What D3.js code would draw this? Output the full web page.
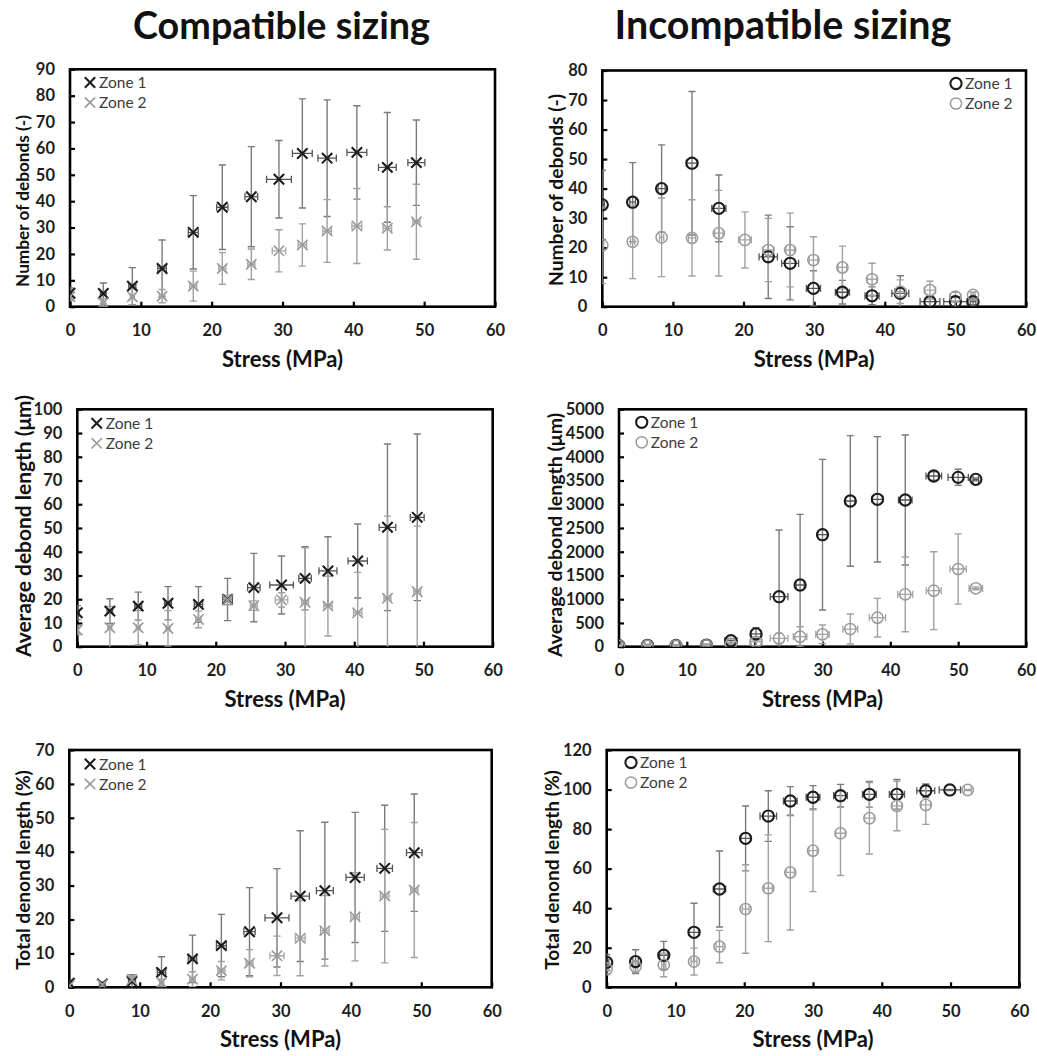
<!DOCTYPE html>
<html>
<head>
<meta charset="utf-8">
<script src="https://cdn.jsdelivr.net/npm/d3@7"></script>
<style>
  body { margin: 0; background: #fff; }
  svg text { font-family: Lato, "Open Sans", sans-serif; }
</style>
</head>
<body>
<svg id="fig" width="1037" height="1056"></svg>
<script>
// ---------- shared axis values ----------
const stressTicks = [0, 10, 20, 30, 40, 50, 60];
const debondTicksC = [0, 10, 20, 30, 40, 50, 60, 70, 80, 90];
const debondTicksI = [0, 10, 20, 30, 40, 50, 60, 70, 80];
const lengthTicksC = [0, 10, 20, 30, 40, 50, 60, 70, 80, 90, 100];
const lengthTicksI = [0, 500, 1000, 1500, 2000, 2500, 3000, 3500, 4000, 4500, 5000];
const totalTicksC = [0, 10, 20, 30, 40, 50, 60, 70];
const totalTicksI = [0, 20, 40, 60, 80, 100, 120];
const zoneNames = ["Zone 1", "Zone 2"];

// ---------- compatible sizing: number of debonds ----------
const cdStress = [0, 4.7, 8.8, 13.0, 17.4, 21.5, 25.6, 29.5, 32.8, 36.3, 40.5, 44.8, 48.9];
const cdZ1   = [5.1, 5.0, 7.8, 14.5, 28.2, 37.7, 41.7, 48.3, 58.1, 56.3, 58.5, 52.8, 54.6];
const cdZ1Sd = [2.0, 4.0, 7.0, 10.8, 13.9, 16.0, 19.0, 14.7, 20.7, 22.1, 17.7, 20.8, 16.2];
const cdZ1Sx = [0.3, 0.4, 0.5, 0.6, 0.7, 0.8, 0.9, 1.75, 1.4, 1.3, 1.4, 1.25, 1.2];
const cdZ2   = [3.8, 1.5, 3.8, 4.0, 7.8, 14.5, 16.1, 21.2, 23.4, 28.7, 30.6, 29.7, 32.2];
const cdZ2Sd = [1.5, 1.5, 3.0, 2.5, 5.7, 6.0, 5.8, 8.0, 8.0, 11.9, 14.2, 8.2, 14.2];
const cdZ2Sx = [0.2, 0.3, 0.3, 0.4, 0.5, 0.5, 0.5, 0.95, 0.6, 0.6, 0.7, 0.6, 0.5];

// ---------- incompatible sizing: number of debonds ----------
const idStress1 = [0, 4.3, 8.4, 12.7, 16.5, 23.5, 26.6, 29.9, 34.0, 38.2, 42.2, 46.4, 50.0, 52.5];
const idZ1   = [34.5, 35.4, 40.0, 48.6, 33.3, 16.9, 14.7, 6.2, 4.9, 3.7, 4.5, 1.7, 1.7, 1.7];
const idZ1Sd = [11.7, 13.4, 14.8, 24.3, 11.3, 14.1, 12.4, 6.0, 4.0, 3.0, 6.0, 2.0, 1.5, 1.0];
const idZ1Sx = [0.3, 0.4, 0.5, 0.8, 1.0, 1.3, 1.2, 1.0, 1.0, 1.0, 1.2, 1.4, 1.65, 0.4];
const idStress2 = [0, 4.3, 8.4, 12.7, 16.5, 20.2, 23.5, 26.6, 29.9, 34.0, 38.2, 42.2, 46.4, 50.0, 52.5];
const idZ2   = [20.8, 22.0, 23.5, 23.3, 24.9, 22.6, 19.2, 19.2, 15.8, 13.3, 9.3, 5.1, 5.6, 3.4, 4.0];
const idZ2Sd = [13.0, 12.5, 13.3, 12.9, 14.5, 9.5, 10.7, 12.5, 7.9, 7.2, 5.4, 4.0, 3.0, 1.5, 1.0];
const idZ2Sx = [0.2, 0.3, 0.3, 0.5, 0.6, 0.9, 0.8, 0.6, 0.6, 0.6, 0.7, 0.8, 0.8, 0.8, 0.3];

// ---------- compatible sizing: average debond length ----------
const clStress = [0, 4.7, 8.8, 13.1, 17.5, 21.7, 25.5, 29.5, 32.9, 36.2, 40.5, 44.8, 49.1];
const clZ1   = [14.3, 15.0, 17.1, 18.3, 17.8, 19.9, 24.9, 26.0, 28.8, 31.9, 36.1, 50.3, 54.5];
const clZ1Sd = [3.0, 5.2, 5.9, 7.0, 7.5, 8.9, 14.4, 12.2, 13.3, 14.4, 15.6, 35.1, 35.1];
const clZ1Sx = [0.3, 0.4, 0.5, 0.5, 0.6, 0.7, 0.9, 1.7, 0.9, 1.3, 1.4, 1.2, 1.0];
const clZ2   = [7.0, 8.0, 8.0, 7.7, 11.5, 19.7, 17.3, 19.7, 18.7, 17.1, 14.3, 20.4, 23.2];
const clZ2Sd = [2.0, 9.0, 7.2, 7.5, 3.5, 2.0, 2.0, 3.0, 23.0, 12.6, 17.0, 34.6, 27.6];
const clZ2Sx = [0.2, 0.3, 0.3, 0.3, 0.4, 0.5, 0.5, 0.9, 0.5, 0.6, 0.6, 0.5, 0.5];

// ---------- incompatible sizing: average debond length ----------
const ilStress = [0, 4.2, 8.4, 12.9, 16.5, 20.2, 23.6, 26.7, 30.0, 34.1, 38.1, 42.2, 46.4, 50.0, 52.6];
const ilZ1   = [20, 30, 25, 35, 126, 270, 1053, 1299, 2359, 3069, 3104, 3090, 3595, 3567, 3525];
const ilZ1Sd = [10, 15, 15, 20, 50, 130, 1405, 1489, 1587, 1376, 1320, 1369, 90, 170, 30];
const ilZ1Sx = [0.3, 0.4, 0.5, 0.7, 0.9, 0.8, 1.3, 0.6, 0.7, 0.7, 0.8, 1.0, 1.15, 1.5, 0.4];
const ilZ2   = [20, 25, 25, 30, 55, 100, 175, 211, 260, 372, 611, 1102, 1180, 1636, 1229];
const ilZ2Sd = [10, 10, 10, 15, 30, 80, 110, 210, 196, 316, 407, 786, 820, 740, 30];
const ilZ2Sx = [0.3, 0.4, 0.4, 0.5, 0.6, 0.9, 1.3, 1.0, 1.0, 1.1, 1.2, 1.1, 1.1, 1.2, 1.0];

// ---------- compatible sizing: total debond length ----------
const ctStress = [0, 4.7, 8.9, 13.1, 17.5, 21.6, 25.6, 29.5, 32.8, 36.3, 40.6, 44.8, 49.0];
const ctZ1   = [1.2, 1.0, 1.7, 4.4, 8.4, 12.3, 16.4, 20.5, 26.9, 28.5, 32.4, 35.1, 39.7];
const ctZ1Sd = [0.5, 0.6, 2.0, 4.6, 7.0, 9.2, 13.0, 14.5, 19.3, 20.2, 19.2, 18.6, 17.3];
const ctZ1Sx = [0.3, 0.4, 0.5, 0.6, 0.6, 0.7, 0.8, 1.7, 1.3, 1.2, 1.3, 1.1, 1.1];
const ctZ2   = [0.5, 0.8, 2.2, 1.4, 2.4, 4.9, 7.1, 9.3, 14.5, 16.7, 20.8, 26.9, 28.7];
const ctZ2Sd = [0.3, 0.5, 1.0, 1.0, 2.2, 2.7, 4.0, 5.8, 11.1, 10.4, 13.0, 19.7, 19.9];
const ctZ2Sx = [0.2, 0.3, 0.3, 0.3, 0.4, 0.5, 0.5, 1.0, 0.7, 0.6, 0.6, 0.6, 0.5];

// ---------- incompatible sizing: total debond length ----------
const itStress1 = [0, 4.2, 8.3, 12.7, 16.4, 20.2, 23.5, 26.7, 30.0, 34.0, 38.2, 42.2, 46.4, 49.9];
const itZ1   = [12.6, 13.0, 16.2, 27.8, 49.7, 75.3, 86.6, 94.2, 96.1, 96.9, 97.6, 97.6, 99.4, 99.8];
const itZ1Sd = [4.0, 6.0, 7.0, 14.7, 19.2, 16.4, 12.8, 7.3, 5.9, 5.7, 6.5, 7.5, 3.4, 0.3];
const itZ1Sx = [0.3, 0.4, 0.6, 0.8, 0.9, 0.7, 1.2, 1.0, 1.0, 1.0, 1.0, 1.1, 1.3, 1.55];
const itStress2 = [0, 4.2, 8.3, 12.7, 16.4, 20.2, 23.5, 26.7, 30.0, 34.0, 38.2, 42.2, 46.4, 52.5];
const itZ2   = [9.3, 10.5, 11.3, 13.0, 20.6, 39.6, 50.1, 58.1, 69.1, 77.9, 85.5, 91.7, 92.2, 99.8];
const itZ2Sd = [3.0, 3.0, 6.0, 6.8, 8.2, 22.4, 27.0, 29.1, 20.7, 21.4, 18.1, 12.5, 9.8, 0.3];
const itZ2Sx = [0.2, 0.3, 0.3, 0.4, 0.5, 0.5, 0.6, 0.6, 0.6, 0.7, 0.7, 0.7, 0.7, 0.5];

// ---------- helpers ----------
const zip = (s, v, sd, sx) => s.map((d, i) => ({ s: d, v: v[i], sd: sd[i], sx: sx[i] }));

const svg = d3.select("#fig");
const Z1 = "#1c1c1c", Z2 = "#9a9a9a";
const BAR1 = "#7a7a7a", BAR2 = "#a0a0a0";

// scale text so it spans a given length while keeping glyph proportions
function fitWidth(sel, target) {
  const node = sel.node();
  const fs = parseFloat(sel.attr("font-size"));
  const w = node.getComputedTextLength();
  if (w > 0) sel.attr("font-size", (fs * target / w).toFixed(2));
}

const panels = [
  { x0: 70, x1: 495, y0: 69.3, y1: 306.7, yMax: 90, yTicks: debondTicksC, marker: "x",
    title: "Number of debonds (-)", tx: 22, ty: 201, tw: 172, legend: [90, 82.5],
    series: [zip(cdStress, cdZ1, cdZ1Sd, cdZ1Sx), zip(cdStress, cdZ2, cdZ2Sd, cdZ2Sx)] },
  { x0: 602.3, x1: 1026, y0: 70.5, y1: 306.7, yMax: 80, yTicks: debondTicksI, marker: "o",
    title: "Number of debonds (-)", tx: 555, ty: 190, tw: 192, legend: [956, 83.5],
    series: [zip(idStress1, idZ1, idZ1Sd, idZ1Sx), zip(idStress2, idZ2, idZ2Sd, idZ2Sx)] },
  { x0: 77.3, x1: 492.7, y0: 409.3, y1: 646.7, yMax: 100, yTicks: lengthTicksC, marker: "x",
    title: "Average debond length (\u03bcm)", tx: 22, ty: 526, tw: 262, legend: [96.7, 423.3],
    series: [zip(clStress, clZ1, clZ1Sd, clZ1Sx), zip(clStress, clZ2, clZ2Sd, clZ2Sx)] },
  { x0: 619, x1: 1026, y0: 409.3, y1: 646.7, yMax: 5000, yTicks: lengthTicksI, marker: "o",
    title: "Average debond length (\u03bcm)", tx: 554, ty: 535, tw: 244, legend: [641.7, 422.3],
    series: [zip(ilStress, ilZ1, ilZ1Sd, ilZ1Sx), zip(ilStress, ilZ2, ilZ2Sd, ilZ2Sx)] },
  { x0: 69.3, x1: 491.7, y0: 750, y1: 987.3, yMax: 70, yTicks: totalTicksC, marker: "x",
    title: "Total denond length (%)", tx: 22, ty: 870, tw: 200, legend: [90, 764],
    series: [zip(ctStress, ctZ1, ctZ1Sd, ctZ1Sx), zip(ctStress, ctZ2, ctZ2Sd, ctZ2Sx)] },
  { x0: 606.7, x1: 1019.3, y0: 750, y1: 987.3, yMax: 120, yTicks: totalTicksI, marker: "o",
    title: "Total denond length (%)", tx: 551, ty: 870, tw: 200, legend: [631, 762.5],
    series: [zip(itStress1, itZ1, itZ1Sd, itZ1Sx), zip(itStress2, itZ2, itZ2Sd, itZ2Sx)] }
];

const crossPath = d3.symbol(d3.symbolTimes).size(72)();

function drawMarker(g, kind, zone, cx, cy) {
  const col = zone === 0 ? Z1 : Z2;
  if (kind === "x") {
    g.append("path").attr("d", crossPath)
      .attr("transform", `translate(${cx},${cy})`)
      .attr("fill", "none").attr("stroke", col)
      .attr("stroke-width", zone === 0 ? 2.1 : 1.6);
  } else {
    g.append("circle").attr("cx", cx).attr("cy", cy).attr("r", 5.6)
      .attr("fill", "none").attr("stroke", col)
      .attr("stroke-width", zone === 0 ? 2.1 : 1.5);
  }
}

panels.forEach((p, pi) => {
  const g = svg.append("g");
  const x = d3.scaleLinear().domain([0, 60]).range([p.x0, p.x1]);
  const y = d3.scaleLinear().domain([0, p.yMax]).range([p.y1, p.y0]);

  // axes with inward ticks
  const ya = g.append("g").attr("transform", `translate(${p.x0},0)`)
    .call(d3.axisLeft(y).tickValues(p.yTicks).tickFormat(d3.format("d"))
      .tickSize(-5).tickSizeOuter(0).tickPadding(15));
  const xa = g.append("g").attr("transform", `translate(0,${p.y1})`)
    .call(d3.axisBottom(x).tickValues(stressTicks).tickFormat(d3.format("d"))
      .tickSize(-5).tickSizeOuter(0).tickPadding(18));
  [ya, xa].forEach(a => {
    a.select(".domain").remove();
    a.selectAll(".tick line").attr("stroke", "#000").attr("stroke-width", 2.2);
    a.selectAll(".tick text").attr("fill", "#1e1e1e").attr("font-size", 16.5)
      .attr("font-weight", 700).attr("font-family", "Lato, 'Open Sans', sans-serif");
  });

  // plot frame
  g.append("rect").attr("x", p.x0).attr("y", p.y0)
    .attr("width", p.x1 - p.x0).attr("height", p.y1 - p.y0)
    .attr("fill", "none").attr("stroke", "#000").attr("stroke-width", 2.6);

  // axis titles
  const yt = g.append("text")
    .attr("transform", `translate(${p.tx},${p.ty}) rotate(-90)`)
    .attr("text-anchor", "middle").attr("dominant-baseline", "central")
    .attr("font-weight", 700).attr("font-size", 19).attr("fill", "#111")
    .text(p.title);
  fitWidth(yt, p.tw);
  const xt = g.append("text")
    .attr("x", (p.x0 + p.x1) / 2).attr("y", p.y1 + 60)
    .attr("text-anchor", "middle").attr("font-weight", 700).attr("font-size", 19)
    .attr("fill", "#111").text("Stress (MPa)");
  fitWidth(xt, 121);

  // data region clipped to the frame
  const clipId = "clip" + pi;
  svg.append("clipPath").attr("id", clipId).append("rect")
    .attr("x", p.x0).attr("y", p.y0).attr("width", p.x1 - p.x0).attr("height", p.y1 - p.y0);
  const d = g.append("g").attr("clip-path", `url(#${clipId})`);

  const cap = 3.6;
  p.series.forEach((ser, zi) => {
    const col = zi === 0 ? BAR1 : BAR2;
    const eb = d.append("g").attr("stroke", col).attr("stroke-width", 1.4).attr("fill", "none");
    ser.forEach(pt => {
      const cx = x(pt.s), cy = y(pt.v);
      const yTop = y(pt.v + pt.sd), yBot = y(Math.max(pt.v - pt.sd, -p.yMax * 0.05));
      eb.append("line").attr("x1", cx).attr("x2", cx).attr("y1", yTop).attr("y2", yBot);
      eb.append("line").attr("x1", cx - cap).attr("x2", cx + cap).attr("y1", yTop).attr("y2", yTop);
      if (pt.v - pt.sd > -p.yMax * 0.05)
        eb.append("line").attr("x1", cx - cap).attr("x2", cx + cap).attr("y1", yBot).attr("y2", yBot);
      const xl = x(pt.s - pt.sx), xr = x(pt.s + pt.sx);
      const hb = d.append("g").attr("stroke", zi === 0 ? "#555" : "#a5a5a5").attr("stroke-width", 1.3);
      hb.append("line").attr("x1", xl).attr("x2", xr).attr("y1", cy).attr("y2", cy);
      hb.append("line").attr("x1", xl).attr("x2", xl).attr("y1", cy - cap).attr("y2", cy + cap);
      hb.append("line").attr("x1", xr).attr("x2", xr).attr("y1", cy - cap).attr("y2", cy + cap);
    });
  });
  p.series.forEach((ser, zi) => {
    ser.forEach(pt => drawMarker(d, p.marker, zi, x(pt.s), y(pt.v)));
  });

  // legend
  const [lx, ly] = p.legend;
  zoneNames.forEach((name, zi) => {
    const yy = ly + zi * 20;
    drawMarker(g, p.marker, zi, lx, yy);
    g.append("text").attr("x", lx + 9).attr("y", yy + 5.5)
      .attr("font-size", 15.5).attr("fill", "#3c3c3c").text(name);
  });
});

// column headings
const h1 = svg.append("text").attr("x", 281.5).attr("y", 39).attr("text-anchor", "middle")
  .attr("font-weight", 700).attr("font-size", 36).attr("fill", "#111").text("Compatible sizing");
fitWidth(h1, 297);
const h2 = svg.append("text").attr("x", 783).attr("y", 39).attr("text-anchor", "middle")
  .attr("font-weight", 700).attr("font-size", 36).attr("fill", "#111").text("Incompatible sizing");
fitWidth(h2, 337);
</script>
</body>
</html>
